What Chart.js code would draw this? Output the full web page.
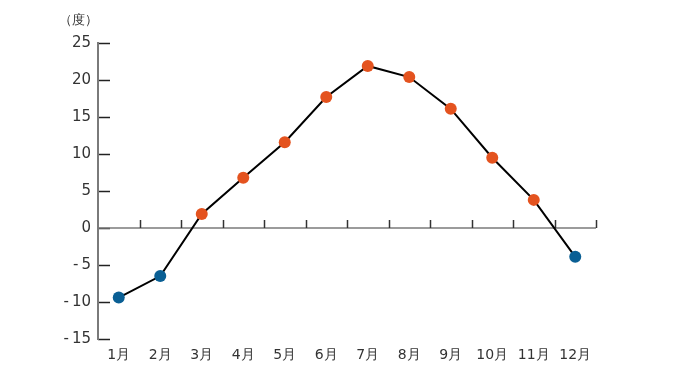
<!DOCTYPE html>
<html lang="ja">
<head>
    <meta charset="UTF-8">
    <title>月別平均気温</title>
    <script src="https://cdn.jsdelivr.net/npm/chart.js@4"></script>
    <style>
        body {
            margin: 0;
            background: #ffffff;
        }
        canvas {
            display: block;
        }
    </style>
</head>
<body>
    <canvas id="chart" width="674" height="376"></canvas>
    <script>
        const months = ['1月', '2月', '3月', '4月', '5月', '6月', '7月', '8月', '9月', '10月', '11月', '12月'];
        const temps = [-9.4, -6.5, 1.9, 6.8, 11.6, 17.7, 21.9, 20.4, 16.1, 9.5, 3.8, -3.9];
        const unitLabel = '（度）';

        const FONT = 'DejaVu Sans, Verdana, sans-serif';

        // y axis line, zero line with its ticks, inner y ticks and the unit label
        const axisDecor = {
            id: 'axisDecor',
            beforeDatasetsDraw(chart) {
                const ctx = chart.ctx;
                const x = chart.scales.x;
                const y = chart.scales.y;
                const y0 = y.getPixelForValue(0);
                ctx.save();

                ctx.strokeStyle = '#222';
                ctx.lineWidth = 1.5;
                y.ticks.forEach(t => {
                    const py = Math.round(y.getPixelForValue(t.value)) + 0.5;
                    ctx.beginPath();
                    ctx.moveTo(y.right, py);
                    ctx.lineTo(y.right + 12, py);
                    ctx.stroke();
                });

                ctx.strokeStyle = '#7a7a7a';
                ctx.lineWidth = 2;
                ctx.beginPath();
                ctx.moveTo(y.right, y.top - 1);
                ctx.lineTo(y.right, y.bottom + 1);
                ctx.stroke();

                ctx.lineWidth = 1.5;
                ctx.beginPath();
                ctx.moveTo(x.left, y0);
                ctx.lineTo(x.right, y0);
                ctx.stroke();

                ctx.strokeStyle = '#333';
                ctx.lineWidth = 1.5;
                for (let i = 1; i <= months.length; i++) {
                    const px = Math.round(x.getPixelForValue(i - 0.5)) + 0.5;
                    ctx.beginPath();
                    ctx.moveTo(px, y0);
                    ctx.lineTo(px, y0 - 8);
                    ctx.stroke();
                }

                ctx.fillStyle = '#333';
                ctx.font = '13px ' + FONT;
                ctx.textAlign = 'left';
                ctx.textBaseline = 'middle';
                ctx.fillText(unitLabel, 59, 21);
                ctx.restore();
            }
        };

        new Chart(document.getElementById('chart'), {
            type: 'line',
            data: {
                labels: months,
                datasets: [{
                    data: temps,
                    borderColor: '#000000',
                    borderWidth: 2,
                    tension: 0,
                    pointRadius: 6,
                    pointHoverRadius: 6,
                    pointBorderWidth: 0,
                    pointBackgroundColor: temps.map(v => v >= 0 ? '#e4531f' : '#0a5f94'),
                    pointBorderColor: temps.map(v => v >= 0 ? '#e4531f' : '#0a5f94')
                }]
            },
            options: {
                responsive: false,
                animation: false,
                layout: {
                    padding: { left: 0, right: 78, top: 43, bottom: 0 }
                },
                plugins: {
                    legend: { display: false },
                    tooltip: { enabled: false }
                },
                scales: {
                    x: {
                        offset: true,
                        grid: { display: false, drawTicks: false },
                        border: { display: false },
                        afterFit(scale) { scale.height = 37; },
                        ticks: {
                            padding: 8,
                            color: '#333',
                            font: { family: FONT, size: 14 },
                            maxRotation: 0,
                            autoSkip: false
                        }
                    },
                    y: {
                        min: -15,
                        max: 25,
                        grid: { display: false, drawTicks: false },
                        border: { display: false },
                        afterFit(scale) { scale.width = 98; },
                        ticks: {
                            stepSize: 5,
                            padding: 7,
                            color: '#333',
                            font: { family: FONT, size: 15 },
                            callback: v => v < 0 ? '-\u2009' + Math.abs(v) : String(v)
                        }
                    }
                }
            },
            plugins: [axisDecor]
        });
    </script>
</body>
</html>
